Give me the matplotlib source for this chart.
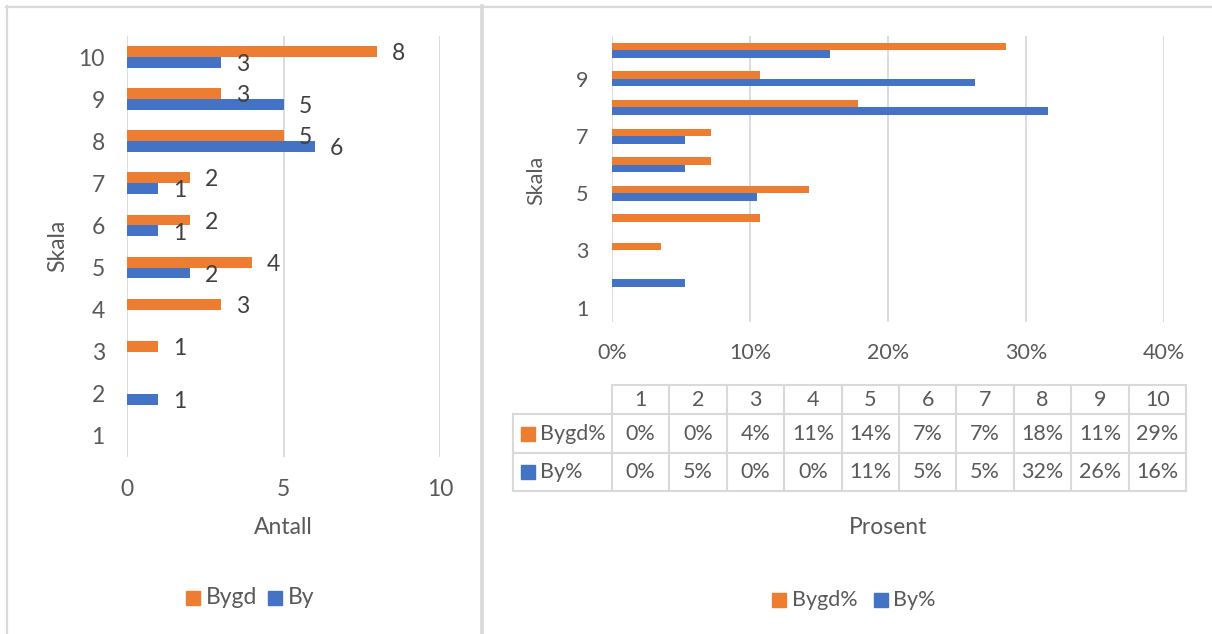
import matplotlib
matplotlib.use("Agg")
import matplotlib.pyplot as plt
from matplotlib.patches import Rectangle
from matplotlib.lines import Line2D

# ---- data ----
skala = [1, 2, 3, 4, 5, 6, 7, 8, 9, 10]
bygd = [0, 0, 1, 3, 4, 2, 2, 5, 3, 8]
by = [0, 1, 0, 0, 2, 1, 1, 6, 5, 3]
bygd_pct = [0.0, 0.0, 0.0357, 0.1071, 0.1429, 0.0714, 0.0714, 0.1786, 0.1071, 0.2857]
by_pct = [0.0, 0.0526, 0.0, 0.0, 0.1053, 0.0526, 0.0526, 0.3158, 0.2632, 0.1579]
left_xticks = [0, 5, 10]
right_xticks = [0, 0.1, 0.2, 0.3, 0.4]
right_yticks = [1, 3, 5, 7, 9]

ORANGE = "#ED7D31"
BLUE = "#4472C4"
GRID = "#D9D9D9"
TXT = "#595959"
LBL = "#404040"
FONT = "Lato"
FS = 16.5
FSR = 15.5

W, H = 1212, 634
plt.rcParams['font.family'] = [FONT, 'DejaVu Sans']
fig = plt.figure(figsize=(W / 100, H / 100), dpi=100)
fig.patch.set_facecolor("white")


def rect(x0, y0, x1, y1):
    return [x0 / W, 1 - y1 / H, (x1 - x0) / W, (y1 - y0) / H]


def fx(x):
    return x / W


def fy(y):
    return 1 - y / H


# panel borders
fig.add_artist(Line2D([fx(6), fx(1212)], [fy(6.5), fy(6.5)], color=GRID, lw=1.6))
fig.add_artist(Line2D([fx(7), fx(7)], [fy(6), fy(634)], color=GRID, lw=1.6))
fig.add_artist(Line2D([fx(482), fx(482)], [fy(6), fy(634)], color=GRID, lw=2.6))


def style_axes(ax, fs):
    for s in ax.spines.values():
        s.set_visible(False)
    ax.grid(axis='x', color=GRID, lw=1.3)
    ax.set_axisbelow(True)
    ax.tick_params(length=0, colors=TXT, labelsize=fs)


bh = 0.26
# ---- left chart ----
axL = fig.add_axes(rect(127, 36, 440, 457))
yo = [s + bh / 2 for s in skala]
yb = [s - bh / 2 for s in skala]
axL.barh(yo, bygd, height=bh, color=ORANGE)
axL.barh(yb, by, height=bh, color=BLUE)
axL.set_xlim(0, 10)
axL.set_ylim(0.5, 10.5)
axL.set_xticks(left_xticks)
axL.set_yticks(skala)
style_axes(axL, FS)
axL.tick_params(axis='y', pad=16)
axL.tick_params(axis='x', pad=16)
for y, v in zip(yo, bygd):
    if v > 0:
        axL.annotate(str(v), (v, y), xytext=(15.5, -1.5), textcoords='offset points',
                     ha='center', va='center', fontsize=FS, color=LBL)
for y, v in zip(yb, by):
    if v > 0:
        axL.annotate(str(v), (v, y), xytext=(15.5, -1.5), textcoords='offset points',
                     ha='center', va='center', fontsize=FS, color=LBL)
fig.text(fx(283), fy(527), "Antall", ha='center', va='center', fontsize=FS, color=TXT)
fig.text(fx(58), fy(246), "Skala", ha='center', va='center', rotation=90, fontsize=FS, color=TXT)

# left legend
fig.add_artist(Rectangle((fx(186), fy(605)), 14 / W, 14 / H, color=ORANGE, transform=fig.transFigure))
fig.text(fx(206), fy(598), "Bygd", ha='left', va='center', fontsize=FS, color=TXT)
fig.add_artist(Rectangle((fx(268), fy(605)), 14 / W, 14 / H, color=BLUE, transform=fig.transFigure))
fig.text(fx(288), fy(598), "By", ha='left', va='center', fontsize=FS, color=TXT)

# ---- right chart ----
axR = fig.add_axes(rect(612, 36, 1164, 322))
axR.barh(yo, bygd_pct, height=bh, color=ORANGE)
axR.barh(yb, by_pct, height=bh, color=BLUE)
axR.set_xlim(0, 0.4)
axR.set_ylim(0.5, 10.5)
axR.set_xticks(right_xticks)
axR.set_xticklabels([f"{t:.0%}" for t in right_xticks])
axR.set_yticks(right_yticks)
style_axes(axR, FSR)
axR.tick_params(axis='y', pad=17)
axR.tick_params(axis='x', pad=15)
fig.text(fx(536), fy(180), "Skala", ha='center', va='center', rotation=90, fontsize=FSR, color=TXT)

# data table
col_x0, col_w = 612, 57.4
lab_x0 = 513
rows_y = [385, 414, 453, 491]
ncol = len(skala)
x_end = col_x0 + ncol * col_w
lw_t = 1.5
fig.add_artist(Line2D([fx(col_x0), fx(x_end)], [fy(rows_y[0]), fy(rows_y[0])], color=GRID, lw=lw_t))
for yy in rows_y[1:]:
    fig.add_artist(Line2D([fx(lab_x0), fx(x_end)], [fy(yy), fy(yy)], color=GRID, lw=lw_t))
for i in range(ncol + 1):
    xx = col_x0 + i * col_w
    fig.add_artist(Line2D([fx(xx), fx(xx)], [fy(rows_y[0]), fy(rows_y[3])], color=GRID, lw=lw_t))
fig.add_artist(Line2D([fx(lab_x0), fx(lab_x0)], [fy(rows_y[1]), fy(rows_y[3])], color=GRID, lw=lw_t))

for i, s in enumerate(skala):
    cx = col_x0 + (i + 0.5) * col_w
    fig.text(fx(cx), fy((rows_y[0] + rows_y[1]) / 2), str(s), ha='center', va='center', fontsize=FSR, color=TXT)
    fig.text(fx(cx), fy((rows_y[1] + rows_y[2]) / 2), f"{bygd_pct[i]:.0%}", ha='center', va='center', fontsize=FSR, color=TXT)
    fig.text(fx(cx), fy((rows_y[2] + rows_y[3]) / 2), f"{by_pct[i]:.0%}", ha='center', va='center', fontsize=FSR, color=TXT)

for (r0, r1), name, col in [((rows_y[1], rows_y[2]), "Bygd%", ORANGE), ((rows_y[2], rows_y[3]), "By%", BLUE)]:
    cy = (r0 + r1) / 2
    fig.add_artist(Rectangle((fx(521), fy(cy + 7)), 14 / W, 14 / H, color=col, transform=fig.transFigure))
    fig.text(fx(540), fy(cy), name, ha='left', va='center', fontsize=FSR, color=TXT)

fig.text(fx(888), fy(527), "Prosent", ha='center', va='center', fontsize=FS, color=TXT)

# right legend
fig.add_artist(Rectangle((fx(772), fy(607)), 14 / W, 14 / H, color=ORANGE, transform=fig.transFigure))
fig.text(fx(792), fy(600), "Bygd%", ha='left', va='center', fontsize=FSR, color=TXT)
fig.add_artist(Rectangle((fx(874), fy(607)), 14 / W, 14 / H, color=BLUE, transform=fig.transFigure))
fig.text(fx(893), fy(600), "By%", ha='left', va='center', fontsize=FSR, color=TXT)

fig.savefig("out.png", dpi=100, facecolor="white")
